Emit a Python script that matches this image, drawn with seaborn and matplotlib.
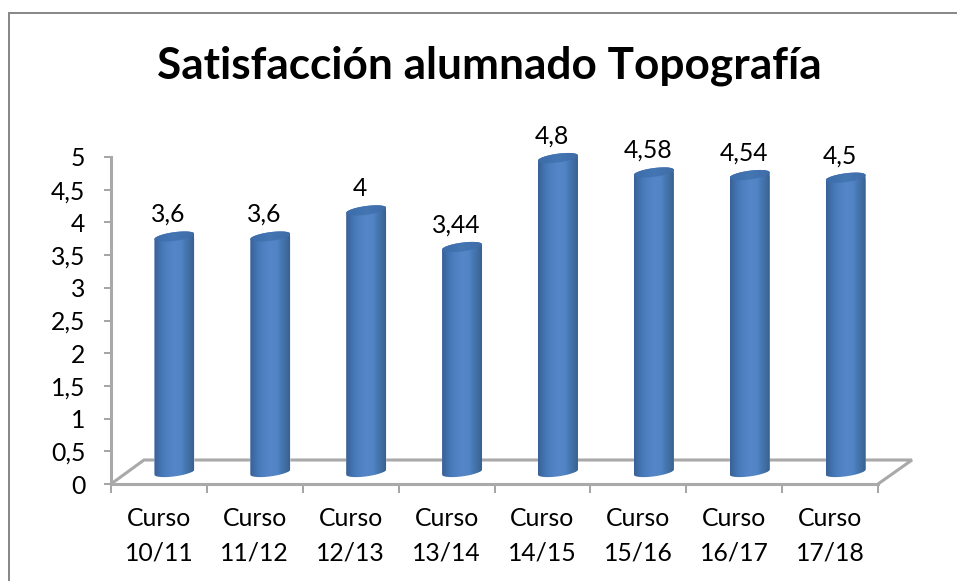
import numpy as np
import matplotlib
matplotlib.use("Agg")
import matplotlib.pyplot as plt
import seaborn as sns
from matplotlib.colors import LinearSegmentedColormap
from matplotlib.lines import Line2D
from matplotlib.path import Path
from matplotlib.transforms import ScaledTranslation

courses = ["Curso\n10/11", "Curso\n11/12", "Curso\n12/13", "Curso\n13/14",
           "Curso\n14/15", "Curso\n15/16", "Curso\n16/17", "Curso\n17/18"]
values = [3.6, 3.6, 4.0, 3.44, 4.8, 4.58, 4.54, 4.5]
y_ticks = [0, 0.5, 1, 1.5, 2, 2.5, 3, 3.5, 4, 4.5, 5]
title = "Satisfacción alumnado Topografía"

W, H = 957, 581
GRAY = "#a9a9a9"
sns.set_theme(style="white")
plt.rcParams["font.family"] = ["Lato", "DejaVu Sans"]

fig = plt.figure(figsize=(W / 100, H / 100), dpi=100, facecolor="white")
ax = fig.add_axes([111 / W, 1 - 484 / H, (878 - 111) / W, (484 - 157) / H])

sns.barplot(x=courses, y=values, color="#4f7fbf", width=0.417, ax=ax, zorder=3)
ax.set_xlim(-0.5, len(courses) - 0.5)
ax.set_ylim(0, 5)

px_x = (len(courses)) / (878 - 111)
px_y = 5 / (484 - 157)


def shift(dx, dy):
    return ax.transData + ScaledTranslation(dx / 100, dy / 100, fig.dpi_scale_trans)


off = shift(15.5, 12)
side_cmap = LinearSegmentedColormap.from_list(
    "side", ["#3a6197", "#4475b3", "#4f80c1", "#5587c8", "#5285c5", "#4474ad", "#3a6191"])
top_cmap = LinearSegmentedColormap.from_list("top", ["#3c6ca9", "#4476b4", "#3f6ca6"])

a_b = 4.4 * px_y
tilt = 2.6 * px_y
for bar, val in zip(list(ax.patches), values):
    x0, w = bar.get_x(), bar.get_width()
    cx, a = x0 + w / 2, w / 2
    t1 = np.linspace(np.pi, 2 * np.pi, 40)
    t2 = np.linspace(0, np.pi, 40)
    low = np.c_[cx + a * np.cos(t1), a_b * np.sin(t1) + tilt * np.cos(t1)]
    upp = np.c_[cx + a * np.cos(t2), val + a_b * np.sin(t2) + tilt * np.cos(t2)]
    body = Path(np.r_[low, upp, low[:1]], closed=True)
    bar.set_transform(off)
    bar.set_clip_box(fig.bbox)
    bar.set_clip_path(body, off)

    im = ax.imshow(np.linspace(0, 1, 64)[None, :], cmap=side_cmap, aspect="auto",
                   extent=(x0, x0 + w, -a_b * 3, val + a_b * 3), zorder=4,
                   interpolation="bilinear")
    im.set_transform(off)
    im.set_clip_box(fig.bbox)
    im.set_clip_path(body, off)

    t3 = np.linspace(0, 2 * np.pi, 80)
    cap = Path(np.c_[cx + a * np.cos(t3), val + a_b * np.sin(t3) + tilt * np.cos(t3)],
               closed=True)
    im2 = ax.imshow(np.linspace(0, 1, 64)[None, :], cmap=top_cmap, aspect="auto",
                    extent=(x0, x0 + w, val - a_b * 3, val + a_b * 3), zorder=5,
                    interpolation="bilinear")
    im2.set_transform(off)
    im2.set_clip_box(fig.bbox)
    im2.set_clip_path(cap, off)

    ax.text(cx, val, f"{val:g}".replace(".", ","), transform=shift(9.5, 26.5),
            ha="center", va="baseline", fontsize=17.8, color="black", zorder=6,
            clip_on=False)

ax.set_xlim(-0.5, len(courses) - 0.5)
ax.set_ylim(0, 5)

# floor of the 3-D box
n = len(courses)
ax.plot([-0.5, -0.5 + 33 * px_x, n - 0.5 + 34 * px_x, n - 0.5],
        [0, 24 * px_y, 24 * px_y, 0], transform=shift(0, 0), color=GRAY, lw=2.2,
        clip_on=False, zorder=2, solid_joinstyle="miter")

for side in ("top", "right"):
    ax.spines[side].set_visible(False)
for side in ("left", "bottom"):
    ax.spines[side].set_color(GRAY)
    ax.spines[side].set_linewidth(2.2)
    ax.spines[side].set_zorder(1)

ax.set_yticks(y_ticks, [f"{v:g}".replace(".", ",") for v in y_ticks])
ax.set_xticks(range(n), courses)
ax.set_xticks(np.arange(n + 1) - 0.5, minor=True)
ax.tick_params(axis="x", which="major", length=0, pad=55.4, labelsize=17.8,
               labelcolor="black")
ax.tick_params(axis="x", which="minor", length=6.5, width=1.1, color="#8c8c8c",
               bottom=True)
ax.tick_params(axis="y", length=5.4, width=1.1, color="#8c8c8c", left=True,
               pad=13, labelsize=17.8, labelcolor="black")
for lab in ax.get_xticklabels():
    lab.set_linespacing(1.62)
    lab.set_verticalalignment("baseline")

title_text = ax.text(489 / W, 1 - 79 / H, title, transform=fig.transFigure, ha="center",
                     va="baseline", fontsize=32, fontweight="bold", color="black")
# fit the title's ink to the reference's width
fig.canvas.draw()
ink = title_text.get_window_extent().width
title_text.set_fontsize(32 * 664 / ink)

# chart frame: the reference is cropped on its right and bottom sides
frame_x = [9 / W, 9 / W, 1.01]
frame_y = [-0.01, 1 - 13 / H, 1 - 13 / H]
fig.add_artist(Line2D(frame_x, frame_y, transform=fig.transFigure,
                      color="#868686", linewidth=1.4, solid_joinstyle="miter"))

fig.savefig("out.png", dpi=100)
